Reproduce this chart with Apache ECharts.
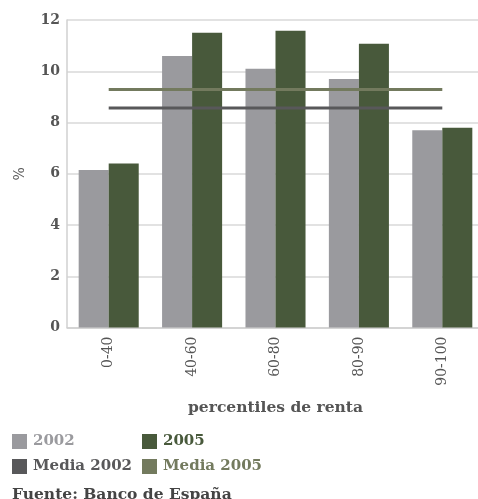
<!DOCTYPE html>
<html><head><meta charset="utf-8">
<script src="https://cdn.jsdelivr.net/npm/echarts@6/dist/echarts.min.js"></script>
<style>html,body{margin:0;padding:0;background:#fff}#c{width:478px;height:499px}</style>
</head><body><div id="c"></div>
<script>
const categories = ['0-40', '40-60', '60-80', '80-90', '90-100'];
const values2002 = [6.15, 10.6, 10.1, 9.7, 7.7];
const values2005 = [6.4, 11.5, 11.58, 11.07, 7.8];
const mean2002 = 8.57;
const mean2005 = 9.29;
const yTicks = [0, 2, 4, 6, 8, 10, 12];

const FONT = 'DejaVu Serif';
const C2002 = '#9a9a9e', C2005 = '#48593b', CM02 = '#58585a', CM05 = '#737a5e';

const chart = echarts.init(document.getElementById('c'), null, {renderer: 'canvas'});
function legend(name, color, left, top) {
  return {
    data: [{name: name, icon: 'rect', textStyle: {color: color}}],
    left: left, top: top, itemWidth: 15, itemHeight: 15, itemGap: 0,
    padding: 0, selectedMode: false,
    textStyle: {fontFamily: FONT, fontWeight: 'bold', fontSize: 15, padding: [0, 0, 0, 1]}
  };
}
chart.setOption({
  animation: false,
  grid: {left: 67, top: 20, width: 417, bottom: 171.5, containLabel: false, outerBoundsMode: 'none'},
  legend: [
    legend('2002', C2002, 12, 434),
    legend('2005', C2005, 142, 434),
    legend('Media 2002', CM02, 12, 459),
    legend('Media 2005', CM05, 142, 459)
  ],
  graphic: [{
    type: 'text', left: 12, top: 487,
    style: {text: 'Fuente: Banco de España', fontFamily: FONT, fontWeight: 'bold', fontSize: 15.5, fill: '#444'}
  }],
  xAxis: {
    type: 'category', data: categories,
    name: 'percentiles de renta', nameLocation: 'middle', nameGap: 72,
    nameTextStyle: {fontFamily: FONT, fontWeight: 'bold', fontSize: 15.5, color: '#555'},
    axisLine: {lineStyle: {color: '#d0d0d0', width: 1.5}},
    axisTick: {show: false},
    axisLabel: {rotate: 90, margin: 9, fontFamily: FONT, fontSize: 14, color: '#555'}
  },
  yAxis: {
    type: 'value', min: 0, max: 12, interval: 2,
    name: '%', nameLocation: 'middle', nameGap: 40, nameRotate: 90,
    nameTextStyle: {fontFamily: FONT, fontSize: 14, color: '#555'},
    axisLine: {show: true, lineStyle: {color: '#d0d0d0', width: 1.5}},
    axisTick: {show: false},
    axisLabel: {margin: 7, fontFamily: FONT, fontWeight: 'bold', fontSize: 14, color: '#555',
      formatter: v => yTicks.includes(v) ? String(v) : ''},
    splitLine: {lineStyle: {color: '#d9d9d9', width: 1.5}}
  },
  series: [
    {name: '2002', type: 'bar', data: values2002, itemStyle: {color: C2002},
     barGap: '0%', barCategoryGap: '28%'},
    {name: '2005', type: 'bar', data: values2005, itemStyle: {color: C2005}},
    {name: 'Media 2002', type: 'line', data: categories.map(() => mean2002), symbol: 'none',
     itemStyle: {color: CM02}, lineStyle: {color: CM02, width: 3}, z: 5},
    {name: 'Media 2005', type: 'line', data: categories.map(() => mean2005), symbol: 'none',
     itemStyle: {color: CM05}, lineStyle: {color: CM05, width: 3}, z: 5}
  ]
});
</script></body></html>
